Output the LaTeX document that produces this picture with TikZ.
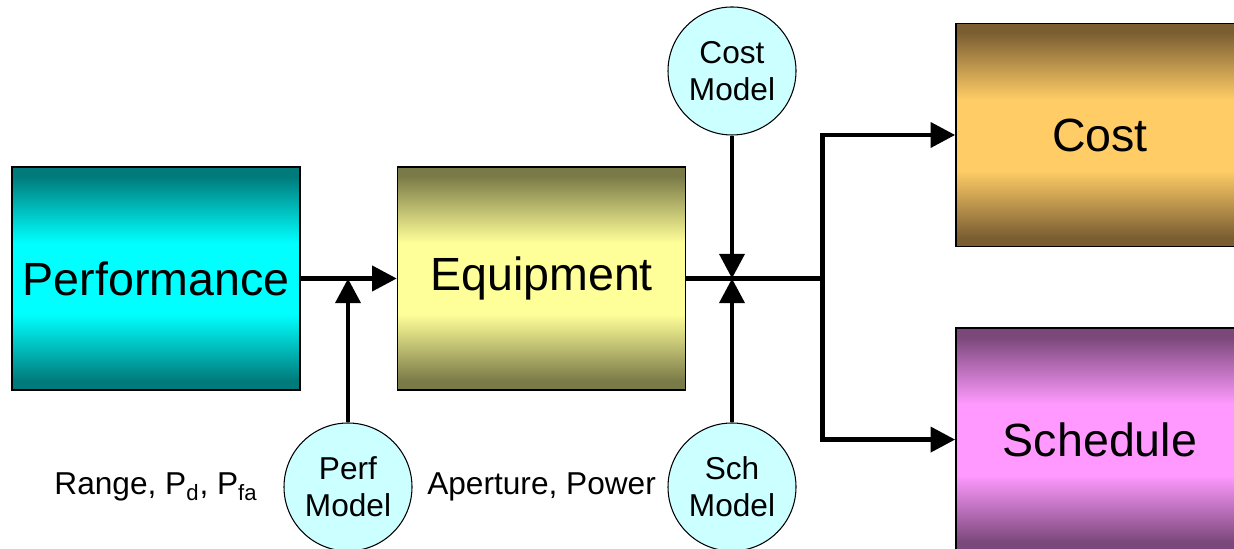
\documentclass[tikz,border=0pt]{standalone}
\usepackage{fontspec}
\setmainfont{Liberation Sans}
\usetikzlibrary{arrows.meta,positioning,calc}
\definecolor{perfdark}{RGB}{0,122,122}
\definecolor{perflight}{RGB}{0,255,255}
\definecolor{equipdark}{RGB}{122,122,72}
\definecolor{equiplight}{RGB}{255,255,153}
\definecolor{costdark}{RGB}{122,94,50}
\definecolor{costlight}{RGB}{255,204,102}
\definecolor{scheddark}{RGB}{122,72,122}
\definecolor{schedlight}{RGB}{255,153,255}
\definecolor{modelfill}{RGB}{204,255,255}
\colorlet{bandedge}{black}
\colorlet{bandmid}{white}
\pgfdeclareverticalshading[bandedge,bandmid]{band}{100bp}{
    color(0bp)=(bandedge); color(27bp)=(bandedge);
    color(42bp)=(bandmid); color(58bp)=(bandmid);
    color(73bp)=(bandedge); color(100bp)=(bandedge)}
\tikzset{
    block/.style = {draw, rectangle, line width=0.9pt, minimum width=5.76cm, minimum height=4.46cm, inner sep=0pt, font=\fontsize{26.5}{30}\selectfont},
    banded/.style 2 args = {/utils/exec={\colorlet{bandedge}{#1}\colorlet{bandmid}{#2}}, shading=band},
    model/.style = {draw, circle, fill=modelfill, line width=0.6pt, minimum size=2.56cm, inner sep=0pt, align=center, font=\fontsize{18}{21}\selectfont},
    note/.style = {font=\fontsize{18}{21}\selectfont},
    wire/.style = {line width=2.8pt},
    flow/.style = {line width=2.8pt, -{Triangle[length=14pt,width=14pt]}},
}

\begin{document}
\begin{tikzpicture}
\useasboundingbox (0,0) rectangle (24.68,10.98);

% Main blocks
\node[block, banded={perfdark}{perflight}] (perf) at (3.12,5.41) {Performance};
\node[block, banded={equipdark}{equiplight}, right=1.92cm of perf] (equip) {Equipment};
\node[block, banded={costdark}{costlight}] (cost) at (22.0,8.28) {Cost};
\node[block, banded={scheddark}{schedlight}, below=1.6cm of cost] (sched) {Schedule};

% Model circles
\node[model] (costmodel) at (14.64,9.56) {Cost\\Model};
\node[model] (perfmodel) at (6.96,1.24) {Perf\\Model};
\node[model] (schmodel) at (14.64,1.24) {Sch\\Model};

% Labels under the blocks
\node[note] (rangelbl) at (perf |- perfmodel) {Range, P\textsubscript{d}, P\textsubscript{fa}};
\node[note] (aperlbl) at (equip |- schmodel) {Aperture, Power};

% Junction points
\coordinate (join) at (costmodel |- equip);
\coordinate[right=2.72cm of equip.east] (split);

% Connections
\draw[flow] (perf) -- (equip);
\draw[flow] (perfmodel) -- (perfmodel |- perf.east);
\draw[wire] (equip.east) -- (split);
\draw[flow] (costmodel) -- (join);
\draw[flow] (schmodel) -- (join);
\draw[flow] (split) |- (cost);
\draw[flow] (split) |- (sched);

\end{tikzpicture}
\end{document}
